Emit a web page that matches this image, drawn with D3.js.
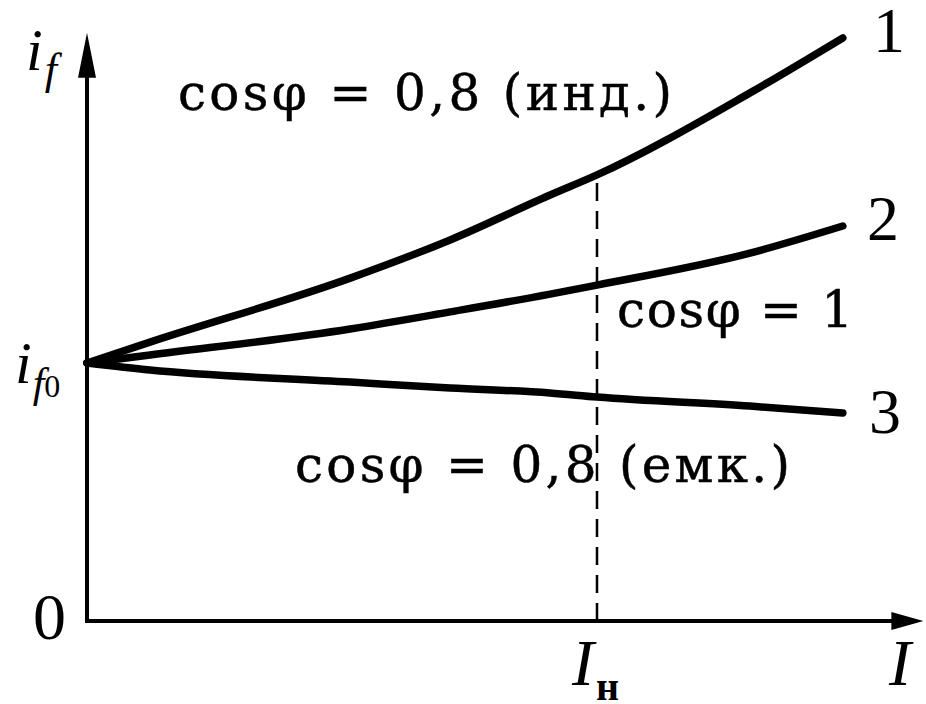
<!DOCTYPE html>
<html>
<head>
<meta charset="utf-8">
<script src="https://cdn.jsdelivr.net/npm/d3@7"></script>
<style>
  html, body { margin: 0; padding: 0; background: #fff; }
  svg { display: block; }
  text { font-family: "Liberation Serif", "DejaVu Serif", serif; fill: #000; }
  text.note { font-family: "DejaVu Serif", "Liberation Serif", serif; }
</style>
</head>
<body>
<svg id="chart" width="926" height="704"></svg>
<script>
// Load current in units of rated current I_н
const currents = [0, 0.1235, 0.516, 0.712, 0.908, 1.0, 1.3, 1.482];
// Field current in units of no-load field current i_f0
const curveInductive = [1.0, 1.081, 1.329, 1.477, 1.651, 1.729, 2.047, 2.260]; // 1: cosφ = 0,8 (инд.)
const curveResistive = [1.0, 1.031, 1.132, 1.198, 1.267, 1.302, 1.426, 1.531]; // 2: cosφ = 1
const curveCapacitive = [1.0, 0.973, 0.926, 0.903, 0.884, 0.868, 0.833, 0.806]; // 3: cosφ = 0,8 (емк.)
const curveNumbers = ["1", "2", "3"];
const curveNotes = ["cosφ = 0,8 (инд.)", "cosφ = 1", "cosφ = 0,8 (емк.)"];
const ratedCurrent = 1.0;
const xAxisMax = 1.64;
const yAxisMax = 2.28;

const svg = d3.select("#chart");
const x = d3.scaleLinear().domain([0, 1]).range([87, 597]);
const y = d3.scaleLinear().domain([0, 1]).range([621, 363]);

// Axes with arrowheads
const axisStroke = 4;
svg.append("line")
  .attr("x1", x(0)).attr("y1", y(0))
  .attr("x2", x(0)).attr("y2", y(yAxisMax) + 20)
  .attr("stroke", "#000").attr("stroke-width", axisStroke);
svg.append("line")
  .attr("x1", x(0) - 2).attr("y1", y(0))
  .attr("x2", x(xAxisMax) - 20).attr("y2", y(0))
  .attr("stroke", "#000").attr("stroke-width", axisStroke);

const yTip = [x(0), y(yAxisMax)];
svg.append("path")
  .attr("d", `M${yTip[0]},${yTip[1]} L${yTip[0] + 9},${yTip[1] + 45} L${yTip[0] - 9},${yTip[1] + 45} Z`)
  .attr("fill", "#000");
const xTip = [x(xAxisMax), y(0)];
svg.append("path")
  .attr("d", `M${xTip[0]},${xTip[1]} L${xTip[0] - 32},${xTip[1] - 9} L${xTip[0] - 32},${xTip[1] + 9} Z`)
  .attr("fill", "#000");

// Rated-current marker
svg.append("line")
  .attr("x1", x(ratedCurrent)).attr("x2", x(ratedCurrent))
  .attr("y1", y(0)).attr("y2", y(curveInductive[5]) + 4)
  .attr("stroke", "#000").attr("stroke-width", 2.5)
  .attr("stroke-dasharray", "18,10");

// Characteristic curves
const line = d3.line()
  .x(d => x(d[0]))
  .y(d => y(d[1]))
  .curve(d3.curveMonotoneX);

[curveInductive, curveResistive, curveCapacitive].forEach(series => {
  svg.append("path")
    .datum(currents.map((c, i) => [c, series[i]]))
    .attr("d", line)
    .attr("fill", "none")
    .attr("stroke", "#000")
    .attr("stroke-width", 7.5)
    .attr("stroke-linecap", "round");
});

// Curve numbers
const numberPos = [[873, 52], [867, 240], [869, 433]];
curveNumbers.forEach((t, i) => {
  svg.append("text")
    .attr("x", numberPos[i][0]).attr("y", numberPos[i][1])
    .attr("font-size", 64)
    .text(t);
});

// Power-factor notes
const notePos = [[178, 110, 494], [617, 327, 236], [295, 482, 495]];
curveNotes.forEach((t, i) => {
  const [nx, ny, w] = notePos[i];
  svg.append("text")
    .attr("class", "note")
    .attr("x", nx).attr("y", ny)
    .attr("font-size", 50)
    .attr("textLength", w)
    .attr("lengthAdjust", "spacing")
    .attr("stroke", "#000").attr("stroke-width", 0.5)
    .text(t);
});

// Axis labels
const yLabel = svg.append("text").attr("x", 26).attr("y", 70)
  .attr("font-size", 60).attr("font-style", "italic");
yLabel.append("tspan").text("i");
yLabel.append("tspan").attr("font-size", 44).attr("dy", 14).attr("dx", 2).text("f");

const y0Label = svg.append("text").attr("x", 15).attr("y", y(1) + 20)
  .attr("font-size", 60).attr("font-style", "italic");
y0Label.append("tspan").text("i");
y0Label.append("tspan").attr("font-size", 42).attr("dy", 14).attr("dx", 1).text("f");
y0Label.append("tspan").attr("font-size", 32).attr("font-style", "normal").attr("dx", 0).text("0");

svg.append("text").attr("x", 33).attr("y", 639)
  .attr("font-size", 66).text("0");

const inLabel = svg.append("text").attr("x", 572).attr("y", 685)
  .attr("font-size", 66).attr("font-style", "italic");
inLabel.append("tspan").text("I");
inLabel.append("tspan").attr("font-size", 40).attr("font-style", "normal")
  .attr("font-weight", "bold").attr("dy", 15).attr("dx", 2).text("н");

svg.append("text").attr("x", 889).attr("y", 685)
  .attr("font-size", 66).attr("font-style", "italic").text("I");
</script>
</body>
</html>
